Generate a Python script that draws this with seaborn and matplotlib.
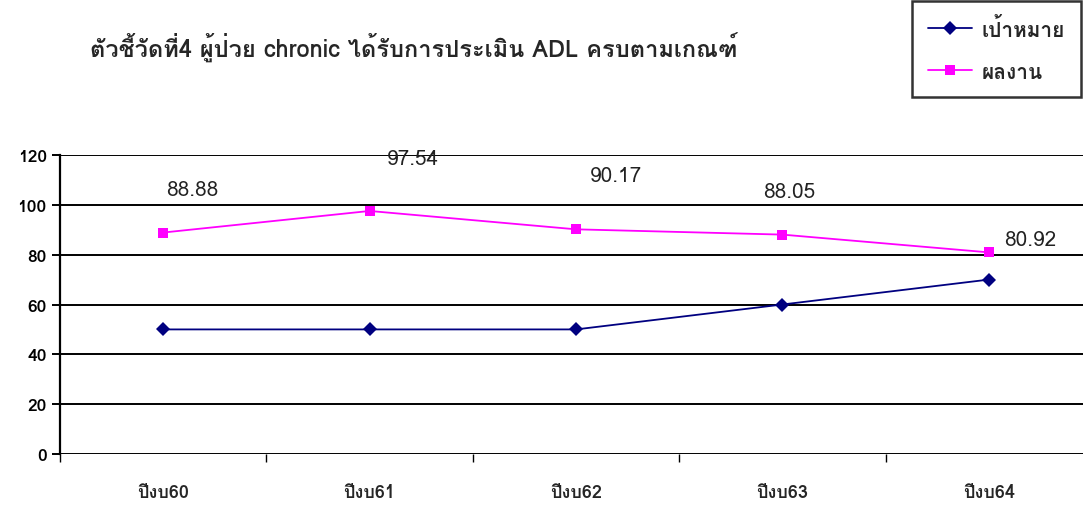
import pandas as pd
import matplotlib
matplotlib.use("Agg")
import matplotlib.pyplot as plt
import seaborn as sns
from matplotlib import font_manager
from matplotlib.ft2font import FT2Font

years = ["ปีงบ60", "ปีงบ61", "ปีงบ62", "ปีงบ63", "ปีงบ64"]
target = [50, 50, 50, 60, 70]
result = [88.88, 97.54, 90.17, 88.05, 80.92]
series_names = ["เป้าหมาย", "ผลงาน"]
title = "ตัวชี้วัดที่4 ผู้ป่วย chronic ได้รับการประเมิน ADL ครบตามเกณฑ์"
yticks = [0, 20, 40, 60, 80, 100, 120]


# find an installed font that has Thai glyphs
def thai_font():
    for f in font_manager.fontManager.ttflist:
        try:
            if 0x0E01 in FT2Font(f.fname).get_charmap():
                return f.name
        except Exception:
            pass
    return None


sns.set_style("white")
thai = thai_font()
plt.rcParams["font.family"] = [thai, "DejaVu Sans"] if thai else ["DejaVu Sans"]

df = pd.DataFrame({
    "year": years * 2,
    "value": target + result,
    "series": [series_names[0]] * len(years) + [series_names[1]] * len(years),
})

fig = plt.figure(figsize=(10.83, 5.06), dpi=100)
ax = fig.add_axes([60 / 1083, 1 - 455 / 506, 1 - 60 / 1083, 299 / 506])

sns.lineplot(data=df, x="year", y="value", hue="series", style="series",
             markers=["D", "s"], dashes=False, palette=["#000080", "#FF00FF"],
             markersize=7, linewidth=1.3, markeredgewidth=0, ax=ax)

ax.set_xlim(-0.5, 4.5 - 9 / 206.5)
ax.set_ylim(0, 120)
ax.set_yticks(yticks)
ax.yaxis.grid(True, color="black", linewidth=1.4)
ax.set_axisbelow(True)
for s in ["top", "right", "bottom"]:
    ax.spines[s].set_visible(False)
ax.spines["left"].set_linewidth(1.6)
ax.spines["left"].set_color("black")
ax.set_xticks([i - 0.5 for i in range(len(years))], minor=False)
ax.set_xticklabels([])
ax.set_xticks(range(len(years)), minor=True)
ax.set_xticklabels(years, minor=True, fontsize=13, fontweight="bold")
ax.tick_params(axis="x", which="major", bottom=True, direction="out", length=6, width=1, colors="black")
ax.tick_params(axis="x", which="minor", bottom=True, length=0, pad=21)
ax.tick_params(axis="y", left=True, direction="out", length=6, width=1.4, labelsize=12.5, colors="black")
for t in ax.get_yticklabels():
    t.set_fontweight("bold")
ax.set_xlabel("")
ax.set_ylabel("")

# value labels above the result points
offsets = [(29, 43), (43, 52), (40, 54), (7, 43), (41, 13)]
for i, v in enumerate(result):
    ax.annotate(f"{v:.2f}", (i, v), xytext=offsets[i], textcoords="offset pixels",
                ha="center", va="center", fontsize=15, color="#222222")

fig.text(90 / 1083, 1 - 48 / 506, title, fontsize=17, fontweight="bold", va="center")

ax.legend_.remove()
handles, labels = ax.get_legend_handles_labels()
leg = fig.legend(handles, labels, loc="upper right", bbox_to_anchor=(1081 / 1083, 1 - 2 / 506),
                 borderaxespad=0, frameon=True, fancybox=False, edgecolor="black", fontsize=15,
                 handlelength=2.1, labelspacing=1.1, borderpad=0.75, handletextpad=0.5)
leg.get_frame().set_linewidth(1.8)
for t in leg.get_texts():
    t.set_fontweight("bold")

fig.savefig("out.png", dpi=100)
